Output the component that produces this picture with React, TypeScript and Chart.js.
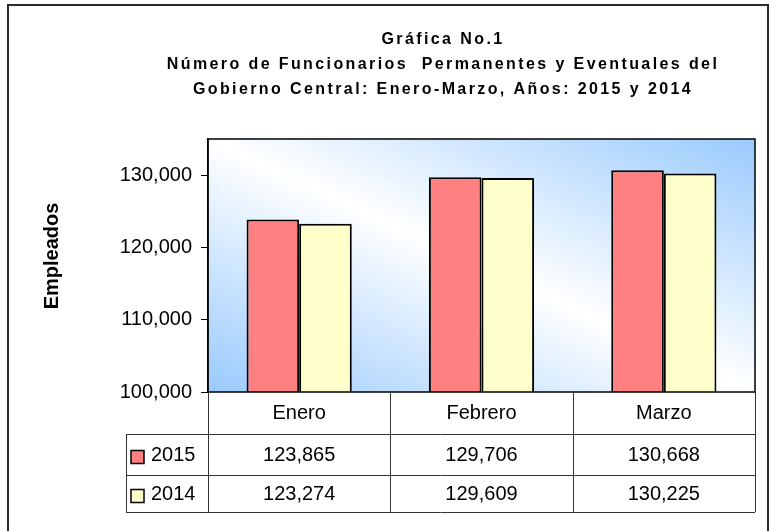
import React, { useEffect, useRef } from "react";
import { Chart, registerables } from "chart.js";

Chart.register(...registerables);

const categories = ["Enero", "Febrero", "Marzo"];
const seriesNames = ["2015", "2014"];
const values2015 = [123865, 129706, 130668];
const values2014 = [123274, 129609, 130225];
const yTickValues = [100000, 110000, 120000, 130000];
const yMin = 100000;
const yMax = 135000;
const titleLines = [
  "Gráfica No.1",
  "Número de Funcionarios  Permanentes y Eventuales del",
  "Gobierno Central: Enero-Marzo, Años: 2015 y 2014",
];
const yAxisTitle = "Empleados";
const seriesColors = ["#FF8080", "#FFFFCC"];

const FONT = '"Liberation Sans", Arial, sans-serif';
const W = 771;
const H = 531;

const fmt = (v: number) => v.toLocaleString("en-US");

const bgPlugin = {
  id: "bgGradient",
  beforeDraw(chart: any) {
    const { ctx, chartArea } = chart;
    const { left, top, right, bottom } = chartArea;
    const w = right - left;
    const h = bottom - top;
    ctx.save();
    ctx.fillStyle = "#FFFFFF";
    ctx.fillRect(0, 0, chart.width, chart.height);
    const k = (2 * w * h) / (w * w + h * h);
    const g = ctx.createLinearGradient(left, bottom, left + h * k, bottom - w * k);
    g.addColorStop(0, "#99CAFD");
    g.addColorStop(0.5, "#FFFFFF");
    g.addColorStop(1, "#99CAFD");
    ctx.fillStyle = g;
    ctx.fillRect(left, top, w, h);
    ctx.restore();
  },
};

const overlayPlugin = {
  id: "overlay",
  afterDraw(chart: any) {
    const { ctx, chartArea } = chart;
    const xs = chart.scales.x;
    const L = chartArea.left;
    const R = chartArea.right;
    const T = chartArea.top;
    const B = chartArea.bottom;

    ctx.save();
    // outer frame
    ctx.strokeStyle = "#2A2A2A";
    ctx.lineWidth = 2;
    ctx.beginPath();
    ctx.moveTo(8, H + 2);
    ctx.lineTo(8, 5);
    ctx.lineTo(768, 5);
    ctx.lineTo(768, H + 2);
    ctx.stroke();

    // title
    ctx.fillStyle = "#000";
    ctx.font = `bold 16px ${FONT}`;
    ctx.textAlign = "center";
    ctx.textBaseline = "middle";
    (ctx as any).letterSpacing = "2.4px";
    titleLines.forEach((line, i) => {
      ctx.fillText(line, 443, 40 + i * 25);
    });
    (ctx as any).letterSpacing = "0px";

    // y axis title
    ctx.save();
    ctx.translate(52, 256);
    ctx.rotate(-Math.PI / 2);
    ctx.font = `bold 20px ${FONT}`;
    ctx.textAlign = "center";
    ctx.textBaseline = "middle";
    ctx.fillText(yAxisTitle, 0, 0);
    ctx.restore();

    // plot border
    ctx.strokeStyle = "#000";
    ctx.lineWidth = 1.5;
    ctx.strokeRect(L, T, R - L, B - T);

    // data table
    const y1 = B + 42;
    const y2 = y1 + 41;
    const y3 = y2 + 37;
    const legendLeft = 126;
    ctx.strokeStyle = "#333";
    ctx.lineWidth = 1;
    ctx.beginPath();
    [y1, y2, y3].forEach((y) => {
      ctx.moveTo(legendLeft, Math.round(y) + 0.5);
      ctx.lineTo(R, Math.round(y) + 0.5);
    });
    ctx.moveTo(legendLeft + 0.5, y1);
    ctx.lineTo(legendLeft + 0.5, y3);
    const centers = categories.map((_, i) => xs.getPixelForValue(i));
    const bounds = [L];
    for (let i = 0; i < centers.length - 1; i++) bounds.push((centers[i] + centers[i + 1]) / 2);
    bounds.push(R);
    bounds.forEach((x) => {
      ctx.moveTo(Math.round(x) + 0.5, B);
      ctx.lineTo(Math.round(x) + 0.5, y3);
    });
    ctx.stroke();

    const rows = [values2015, values2014];
    const rowCenters = [(y1 + y2) / 2 + 1, (y2 + y3) / 2 + 1];
    ctx.font = `20px ${FONT}`;
    ctx.fillStyle = "#000";
    ctx.textBaseline = "middle";
    rows.forEach((vals, r) => {
      ctx.textAlign = "center";
      vals.forEach((v, i) => ctx.fillText(fmt(v), centers[i], rowCenters[r]));
      // legend key
      const sy = rowCenters[r] - 5;
      ctx.fillStyle = seriesColors[r];
      ctx.fillRect(131, sy, 13, 13);
      ctx.strokeStyle = "#000";
      ctx.lineWidth = 1.5;
      ctx.strokeRect(131, sy, 13, 13);
      ctx.fillStyle = "#000";
      ctx.textAlign = "left";
      ctx.fillText(seriesNames[r], 151, rowCenters[r]);
    });
    ctx.restore();
  },
};

export default function App() {
  const ref = useRef<HTMLCanvasElement | null>(null);
  useEffect(() => {
    if (!ref.current) return;
    const chart = new Chart(ref.current, {
      type: "bar",
      data: {
        labels: categories,
        datasets: [
          {
            label: seriesNames[0],
            data: values2015,
            backgroundColor: seriesColors[0],
            borderColor: "#000",
            borderWidth: 2,
            borderSkipped: false,
          },
          {
            label: seriesNames[1],
            data: values2014,
            backgroundColor: seriesColors[1],
            borderColor: "#000",
            borderWidth: 2,
            borderSkipped: false,
          },
        ],
      },
      options: {
        animation: false,
        responsive: false,
        devicePixelRatio: 1,
        layout: { padding: { left: 0, right: 16, top: 139, bottom: 0 } },
        datasets: { bar: { categoryPercentage: 0.577, barPercentage: 1 } },
        plugins: {
          legend: { display: false },
          title: { display: false },
          tooltip: { enabled: false },
        },
        scales: {
          x: {
            grid: { display: false, drawTicks: false },
            border: { display: false },
            ticks: { font: { family: FONT, size: 20 }, color: "#000", padding: 9 },
            afterFit(s: any) {
              s.height = 139;
            },
          },
          y: {
            min: yMin,
            max: yMax,
            afterBuildTicks(s: any) {
              s.ticks = yTickValues.map((v) => ({ value: v }));
            },
            grid: { drawOnChartArea: false, tickLength: 7, color: "#000", lineWidth: 1 },
            border: { display: true, color: "#000", width: 1.5 },
            ticks: { font: { family: FONT, size: 20 }, color: "#000", padding: 9 },
            title: { display: false },
            afterFit(s: any) {
              s.width = 208;
            },
          },
        },
      } as any,
      plugins: [bgPlugin, overlayPlugin],
    });
    return () => chart.destroy();
  }, []);

  return (
    <div style={{ position: "absolute", left: 0, top: 0, width: W, height: H }}>
      <canvas ref={ref} width={W} height={H} style={{ width: W, height: H, display: "block" }} />
    </div>
  );
}
